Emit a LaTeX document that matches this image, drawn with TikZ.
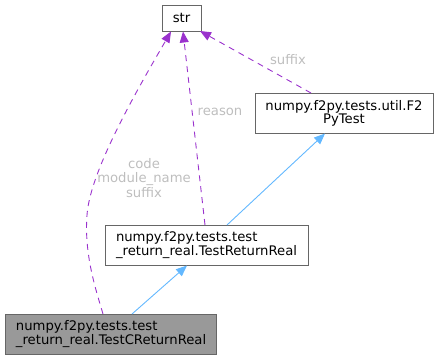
\documentclass[tikz,border=0pt]{standalone}
\usepackage{fontspec}
\setmainfont{DejaVu Sans}
\usetikzlibrary{arrows.meta}
\definecolor{edgeblue}{HTML}{63B8FF}
\definecolor{edgepurple}{HTML}{9A32CD}
\definecolor{boxline}{HTML}{666666}
\definecolor{labelgray}{HTML}{BEBEBE}
\definecolor{boxfill}{HTML}{999999}
\tikzset{
  classbox/.style={draw=boxline, line width=0.9pt, rectangle, inner sep=0pt,
    font=\fontsize{13.2}{13.2}\selectfont},
  leftbox/.style={classbox, align=left},
  centerbox/.style={classbox, align=center},
  inherit/.style={draw=edgeblue, line width=0.9pt, -{Triangle[length=11pt,width=9pt]}},
  usage/.style={draw=edgepurple, line width=0.9pt, dash pattern=on 6pt off 5pt,
    -{Triangle[length=11pt,width=9pt]}},
  edgelabel/.style={text=labelgray, font=\fontsize{13.2}{14.5}\selectfont, align=center, inner sep=0pt}
}
\begin{document}
\begin{tikzpicture}[x=1pt,y=-1pt]
  \useasboundingbox (0,0) rectangle (438,360);
  % class nodes
  \node[centerbox, minimum width=39pt, minimum height=26pt] (str) at (181.5,18) {str};
  \node[centerbox, minimum width=178pt, minimum height=40pt] (f2py) at (344,113)
    {numpy.f2py.tests.util.F2\\PyTest};
  \node[leftbox, minimum width=203pt, minimum height=40pt, text width=181pt] (trr) at (206.5,245)
    {numpy.f2py.tests.test\\\_return\_real.TestReturnReal};
  \node[leftbox, fill=boxfill, minimum width=211pt, minimum height=40pt, text width=189pt] (tcrr) at (110.5,334)
    {numpy.f2py.tests.test\\\_return\_real.TestCReturnReal};
  % anchor points of the connectors
  \coordinate (trrTop) at (227,225);
  \coordinate (f2pyBot) at (325,133.5);
  \coordinate (tcrrTop) at (132,314);
  \coordinate (trrBot) at (187,265.5);
  \coordinate (tcrrTopL) at (103,314);
  \coordinate (strL) at (171,31.5);
  \coordinate (trrTopL) at (205,225);
  \coordinate (strM) at (183,31.5);
  \coordinate (f2pyTop) at (311,93);
  \coordinate (strR) at (200,31);
  % inheritance
  \draw[inherit] (trrTop) -- (f2pyBot);
  \draw[inherit] (tcrrTop) -- (trrBot);
  % member usage
  \draw[usage] (tcrrTopL) .. controls (96,290) and (84,255) .. (87,215)
    .. controls (90,170) and (140,85) .. (strL);
  \draw[usage] (trrTopL) -- (strM);
  \draw[usage] (f2pyTop) -- (strR);
  % edge labels
  \node[edgelabel] (lbl1) at (144,178) {code\\module\_name\\suffix};
  \node[edgelabel] (lbl2) at (220,112) {reason};
  \node[edgelabel] (lbl3) at (288,60) {suffix};
\end{tikzpicture}
\end{document}
